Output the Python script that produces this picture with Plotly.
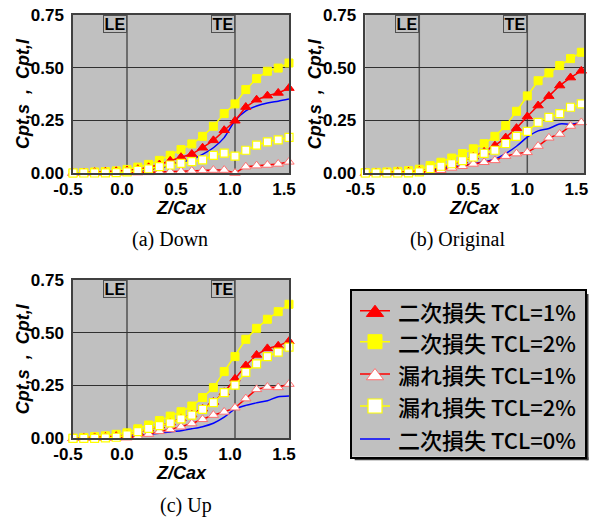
import plotly.graph_objects as go

W, H = 597, 522

# ---------------- data ----------------
Z = [-0.5, -0.4, -0.3, -0.2, -0.1, 0.0, 0.1, 0.2, 0.3, 0.4, 0.5,
     0.6, 0.7, 0.8, 0.9, 1.0, 1.1, 1.2, 1.3, 1.4, 1.5]

# (a) Down
sec1_a = [0.0, 0.002, 0.004, 0.006, 0.008, 0.012, 0.018, 0.027, 0.04, 0.058, 0.075,
          0.09, 0.12, 0.155, 0.203, 0.248, 0.313, 0.348, 0.367, 0.38, 0.403]
sec2_a = [0.0, 0.002, 0.005, 0.007, 0.01, 0.017, 0.028, 0.041, 0.06, 0.084, 0.111,
          0.138, 0.174, 0.222, 0.282, 0.328, 0.396, 0.448, 0.483, 0.498, 0.522]
leak1_a = [0.0, 0.0, 0.0, 0.0, 0.0, 0.001, 0.002, 0.003, 0.005, 0.006, 0.008,
           0.01, 0.012, 0.014, 0.014, 0.0, 0.03, 0.035, 0.038, 0.043, 0.053]
leak2_a = [0.0, 0.0, 0.0, 0.001, 0.002, 0.005, 0.012, 0.02, 0.03, 0.038, 0.046,
           0.054, 0.062, 0.084, 0.094, 0.08, 0.108, 0.132, 0.148, 0.157, 0.169]
sec0_a = [0.0, 0.001, 0.002, 0.003, 0.005, 0.008, 0.012, 0.018, 0.026, 0.036, 0.05,
          0.064, 0.088, 0.12, 0.168, 0.248, 0.295, 0.318, 0.332, 0.341, 0.351]

# (b) Original
sec1_b = [0.0, 0.001, 0.002, 0.004, 0.006, 0.01, 0.018, 0.03, 0.042, 0.058, 0.077,
          0.1, 0.13, 0.168, 0.213, 0.268, 0.32, 0.365, 0.415, 0.453, 0.485]
sec2_b = [0.001, 0.003, 0.005, 0.008, 0.011, 0.018, 0.035, 0.051, 0.071, 0.092, 0.115,
          0.139, 0.174, 0.225, 0.293, 0.366, 0.438, 0.475, 0.51, 0.543, 0.573]
leak1_b = [0.0, 0.0, 0.0, 0.0, 0.001, 0.003, 0.008, 0.013, 0.024, 0.032, 0.043,
           0.051, 0.06, 0.08, 0.092, 0.098, 0.128, 0.167, 0.185, 0.223, 0.24]
leak2_b = [0.0, 0.0, 0.0, 0.0, 0.001, 0.005, 0.021, 0.032, 0.044, 0.059, 0.076,
           0.093, 0.108, 0.14, 0.174, 0.198, 0.24, 0.264, 0.282, 0.312, 0.328]
sec0_b = [0.0, 0.001, 0.002, 0.003, 0.005, 0.008, 0.013, 0.02, 0.028, 0.035, 0.044,
          0.053, 0.066, 0.092, 0.127, 0.17, 0.2, 0.211, 0.233, 0.232, 0.24]

# (c) Up
sec1_c = [0.0, 0.002, 0.004, 0.006, 0.01, 0.016, 0.03, 0.045, 0.06, 0.074, 0.094,
          0.112, 0.14, 0.172, 0.218, 0.282, 0.345, 0.395, 0.426, 0.438, 0.46]
sec2_c = [0.0, 0.004, 0.008, 0.012, 0.019, 0.026, 0.045, 0.063, 0.084, 0.105, 0.126,
          0.153, 0.193, 0.24, 0.316, 0.387, 0.469, 0.521, 0.564, 0.6, 0.635]
leak1_c = [0.0, 0.0, 0.0, 0.0, 0.001, 0.003, 0.008, 0.02, 0.033, 0.042, 0.055,
           0.07, 0.09, 0.11, 0.125, 0.145, 0.188, 0.232, 0.243, 0.241, 0.257]
leak2_c = [0.0, 0.0, 0.0, 0.002, 0.005, 0.016, 0.032, 0.047, 0.06, 0.073, 0.092,
           0.11, 0.137, 0.169, 0.216, 0.252, 0.312, 0.353, 0.387, 0.408, 0.432]
sec0_c = [0.0, 0.001, 0.002, 0.003, 0.005, 0.008, 0.013, 0.018, 0.024, 0.03, 0.036,
          0.045, 0.055, 0.071, 0.1, 0.138, 0.156, 0.168, 0.178, 0.197, 0.201]

series_keys = ["sec1", "sec2", "leak1", "leak2", "sec0"]
series_labels = ["二次損失\u00a0TCL=1%", "二次損失\u00a0TCL=2%", "漏れ損失\u00a0TCL=1%",
                 "漏れ損失\u00a0TCL=2%", "二次損失\u00a0TCL=0%"]
panel_data = [
    dict(sec1=sec1_a, sec2=sec2_a, leak1=leak1_a, leak2=leak2_a, sec0=sec0_a),
    dict(sec1=sec1_b, sec2=sec2_b, leak1=leak1_b, leak2=leak2_b, sec0=sec0_b),
    dict(sec1=sec1_c, sec2=sec2_c, leak1=leak1_c, leak2=leak2_c, sec0=sec0_c),
]
panel_captions = ["(a) Down", "(b) Original", "(c) Up"]
x_tickvals = [-0.5, 0.0, 0.5, 1.0, 1.5]
x_ticktext = ["-0.5", "0.0", "0.5", "1.0", "1.5"]
y_tickvals = [0.0, 0.25, 0.5, 0.75]
y_ticktext = ["0.00", "0.25", "0.50", "0.75"]
LE_X, TE_X = 0.0, 1.0
x_title = "Z/Cax"
y_title = "Cpt,s\u00a0\u00a0,\u00a0\u00a0Cpt,l"

# ---------------- styles ----------------
RED, YEL, BLUE = "#ff0000", "#ffff00", "#0000ff"
styles = {
    "sec1": dict(line=dict(color=RED, width=1.5),
                 marker=dict(symbol="triangle-up", size=9, color=RED,
                             line=dict(color=RED, width=1))),
    "sec2": dict(line=dict(color=YEL, width=1.5),
                 marker=dict(symbol="square", size=8, color=YEL,
                             line=dict(color=YEL, width=1))),
    "leak1": dict(line=dict(color=RED, width=1.5),
                  marker=dict(symbol="triangle-up", size=9, color="white",
                              line=dict(color="#ff6f6f", width=1))),
    "leak2": dict(line=dict(color=YEL, width=1.5),
                  marker=dict(symbol="square", size=8, color="white",
                              line=dict(color=YEL, width=1.2))),
    "sec0": dict(line=dict(color=BLUE, width=1.5, shape="spline", smoothing=0.8)),
}
draw_order = ["sec0", "sec2", "sec1", "leak1", "leak2"]

# panel geometry in pixels: (x0, x1, y0, y1, xmax)
panels = [
    (73.0, 289.0, 15.0, 173.0, 1.5),
    (365.3, 584.0, 15.0, 173.0, 1.525),
    (73.0, 289.0, 280.0, 438.3, 1.5),
]

def fx(p):
    return p / W

def fy(p):
    return 1 - p / H

TICKFONT = dict(family="Liberation Sans, Arial", size=17, color="black", weight="bold")
TITLEFONT = dict(family="Liberation Sans, Arial", size=18, color="black",
                 weight="bold", style="italic")

fig = go.Figure()
annotations = []
shapes = []
layout_axes = {}

for i, (x0, x1, y0, y1, xmax) in enumerate(panels):
    n = i + 1
    xa = "x" if n == 1 else f"x{n}"
    ya = "y" if n == 1 else f"y{n}"
    data = panel_data[i]
    for key in draw_order:
        st = styles[key]
        mode = "lines" if key == "sec0" else "lines+markers"
        fig.add_trace(go.Scatter(x=Z, y=data[key], mode=mode, xaxis=xa, yaxis=ya,
                                 showlegend=False, cliponaxis=False, **st))
    xname = "xaxis" if n == 1 else f"xaxis{n}"
    yname = "yaxis" if n == 1 else f"yaxis{n}"
    layout_axes[xname] = dict(
        domain=[fx(x0), fx(x1)], range=[-0.5, xmax], anchor=ya, automargin=False,
        tickmode="array", tickvals=x_tickvals, ticktext=x_ticktext,
        showgrid=False, zeroline=False, showline=True, mirror=True,
        linecolor="#404040", linewidth=1.5, ticks="", tickfont=TICKFONT,
        ticklabelshift=-5, ticklabelstandoff=0,
    )
    layout_axes[yname] = dict(
        domain=[fy(y1), fy(y0)], range=[0, 0.75], anchor=xa, automargin=False,
        tickmode="array", tickvals=y_tickvals, ticktext=y_ticktext,
        showgrid=True, gridcolor="#303030", gridwidth=1,
        zeroline=False, showline=True, mirror=True,
        linecolor="#404040", linewidth=1.5, ticks="", tickfont=TICKFONT,
        ticklabelstandoff=4,
    )
    # LE / TE vertical lines
    for xv in (LE_X, TE_X):
        shapes.append(dict(type="line", xref=xa, yref=f"{ya} domain", x0=xv, x1=xv,
                           y0=0, y1=1, line=dict(color="#505050", width=1.5),
                           layer="below"))
    for xv, lab in ((LE_X, "LE"), (TE_X, "TE")):
        annotations.append(dict(
            xref=xa, yref=f"{ya} domain", x=xv, y=1, xanchor="right", yanchor="top",
            text=lab, showarrow=False, bgcolor="#c0c0c0", bordercolor="#505050",
            borderwidth=1, borderpad=0, width=22, height=16,
            font=dict(family="Liberation Sans, Arial", size=16, color="black",
                      weight="bold")))
    # axis titles
    annotations.append(dict(xref="paper", yref="paper", x=fx((x0 + x1) / 2),
                            y=fy(y1 + 35), text=x_title, showarrow=False,
                            xanchor="center", yanchor="middle", font=TITLEFONT))
    annotations.append(dict(xref="paper", yref="paper", x=fx(x0 - 50),
                            y=fy((y0 + y1) / 2), text=y_title, showarrow=False,
                            textangle=-90, xanchor="center", yanchor="middle",
                            font=TITLEFONT))

# captions
caption_pos = [(170, 239), (457, 239), (186, 505)]
for cap, (cx, cy) in zip(panel_captions, caption_pos):
    annotations.append(dict(xref="paper", yref="paper", x=fx(cx), y=fy(cy), text=cap,
                            showarrow=False, xanchor="center", yanchor="middle",
                            font=dict(family="Liberation Serif, Times New Roman",
                                      size=20, color="black")))

# ---------------- legend (custom box) ----------------
LX0, LX1, LY0, LY1 = 351.7, 585.0, 291.0, 456.7
layout_axes["xaxis4"] = dict(domain=[fx(LX0), fx(LX1)], range=[LX0, LX1], anchor="y4",
                             automargin=False,
                             showgrid=False, zeroline=False, showticklabels=False,
                             ticks="", showline=True, mirror=True, linecolor="black",
                             linewidth=1.5, fixedrange=True)
layout_axes["yaxis4"] = dict(domain=[fy(LY1), fy(LY0)], range=[LY1, LY0], anchor="x4",
                             automargin=False,
                             showgrid=False, zeroline=False, showticklabels=False,
                             ticks="", showline=True, mirror=True, linecolor="black",
                             linewidth=1.5, fixedrange=True)
# shadow strips
shapes.append(dict(type="rect", xref="paper", yref="paper", x0=fx(LX1 + 0.5),
                   x1=fx(LX1 + 3.5), y0=fy(LY1 + 3.5), y1=fy(LY0 + 3),
                   fillcolor="#404040", line=dict(width=0), layer="below"))
shapes.append(dict(type="rect", xref="paper", yref="paper", x0=fx(LX0 + 3),
                   x1=fx(LX1 + 3.5), y0=fy(LY1 + 3.5), y1=fy(LY1 + 0.5),
                   fillcolor="#404040", line=dict(width=0), layer="below"))

row_y = [310.7, 341.7, 374.0, 406.0, 439.0]
for key, lab, ry in zip(series_keys, series_labels, row_y):
    st = styles[key]
    lline = dict(st["line"])
    lline.pop("shape", None)
    lline.pop("smoothing", None)
    fig.add_trace(go.Scatter(x=[360, 390], y=[ry, ry], mode="lines", line=lline,
                             xaxis="x4", yaxis="y4", showlegend=False,
                             hoverinfo="skip"))
    if "marker" in st:
        mk = dict(st["marker"])
        mk["size"] = 15 if "triangle" in mk["symbol"] else 14
        fig.add_trace(go.Scatter(x=[375], y=[ry + (2 if "triangle" in mk["symbol"] else 0)],
                                 mode="markers", marker=mk,
                                 xaxis="x4", yaxis="y4", showlegend=False,
                                 hoverinfo="skip", cliponaxis=False))
    annotations.append(dict(xref="paper", yref="paper", x=fx(396), y=fy(ry), text=lab,
                            showarrow=False, xanchor="left", yanchor="middle",
                            font=dict(family="Noto Sans CJK JP", size=22, color="black",
                                      weight=500)))

fig.update_layout(
    width=W, height=H, margin=dict(l=0, r=0, t=0, b=0, autoexpand=False),
    paper_bgcolor="white", plot_bgcolor="#c0c0c0",
    showlegend=False, annotations=annotations, shapes=shapes, **layout_axes,
)

fig.write_html("out.html")
